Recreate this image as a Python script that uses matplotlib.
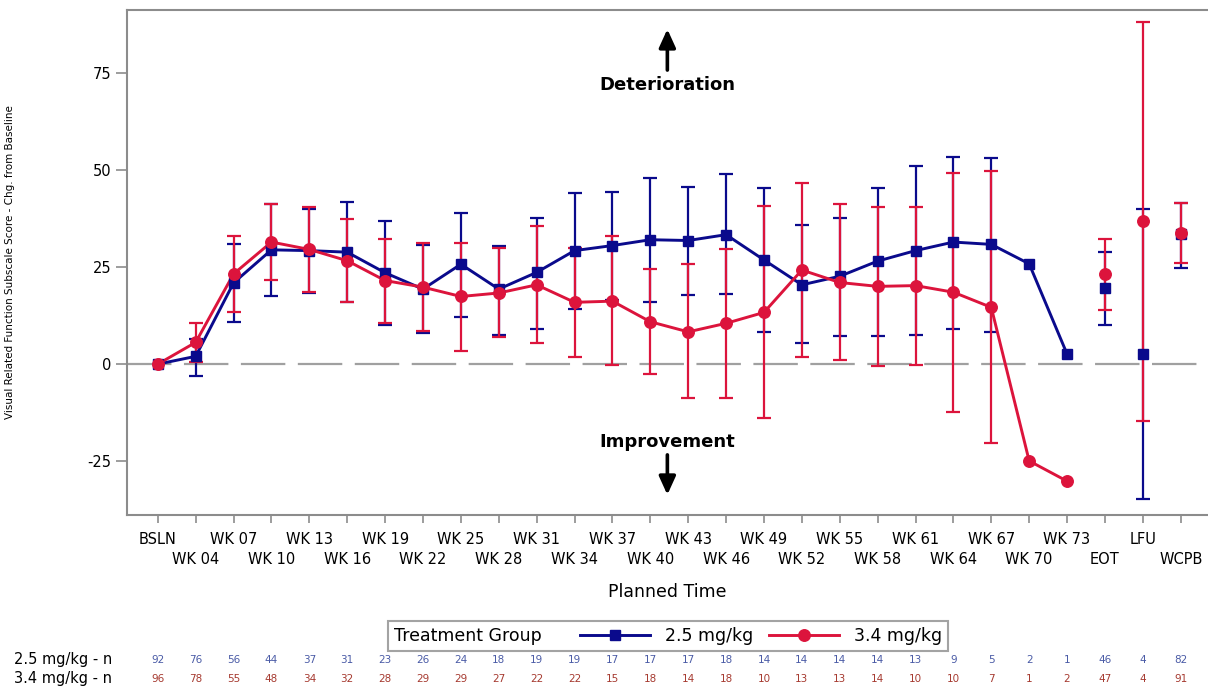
import numpy as np
import matplotlib
matplotlib.use('Agg')
import matplotlib.pyplot as plt
from matplotlib.lines import Line2D
from matplotlib.offsetbox import HPacker
from matplotlib.transforms import blended_transform_factory

plt.rcParams['font.family'] = 'DejaVu Sans'
plt.rcParams['lines.scale_dashes'] = False
plt.rcParams['axes.unicode_minus'] = False

# visit labels
visits = ['BSLN'] + [f'WK {w:02d}' for w in range(4, 74, 3)] + ['EOT', 'LFU', 'WCPB']
n_connected = 25  # BSLN .. WK 73 are joined by a line

# 2.5 mg/kg: mean change from baseline with error bar limits
mean_25 = [0, 2.0, 20.9, 29.4, 29.2, 28.8, 23.5, 19.3, 25.7, 19.3, 23.6, 29.2, 30.5, 32.0,
           31.8, 33.3, 26.8, 20.4, 22.6, 26.5, 29.2, 31.4, 30.8, 25.8, 2.6, 19.7, 2.6, 33.4]
upper_25 = [np.nan, 6.4, 30.8, 41.1, 40.0, 41.8, 36.7, 30.7, 39.0, 30.5, 37.7, 44.1, 44.4, 47.8,
            45.5, 48.8, 45.4, 35.7, 37.5, 45.4, 50.9, 53.4, 53.1, np.nan, np.nan, 28.9, 39.9, 41.5]
lower_25 = [np.nan, -3.0, 10.8, 17.4, 18.4, 15.9, 10.1, 7.9, 12.2, 7.5, 9.0, 14.2, 16.6, 16.0,
            17.8, 18.0, 8.2, 5.4, 7.2, 7.2, 7.5, 9.0, 8.2, np.nan, np.nan, 10.1, -34.8, 24.8]

# 3.4 mg/kg
mean_34 = [0, 5.6, 23.2, 31.4, 29.5, 26.6, 21.5, 19.8, 17.4, 18.3, 20.4, 15.9, 16.2, 10.9,
           8.3, 10.5, 13.3, 24.2, 21.0, 20.0, 20.2, 18.5, 14.6, -24.9, -30.1, 23.2, 36.7, 33.7]
upper_34 = [np.nan, 10.6, 32.9, 41.1, 40.4, 37.4, 32.2, 31.2, 31.2, 29.8, 35.5, 29.8, 32.9, 24.5,
            25.7, 29.6, 40.8, 46.6, 41.3, 40.4, 40.5, 49.2, 49.6, np.nan, np.nan, 32.2, 87.9, 41.5]
lower_34 = [np.nan, 0.6, 13.3, 21.7, 18.5, 16.1, 10.6, 8.6, 3.4, 6.9, 5.4, 1.9, -0.3, -2.6,
            -8.8, -8.6, -13.9, 1.9, 1.0, -0.4, -0.3, -12.3, -20.4, np.nan, np.nan, 14.0, -14.6, 25.9]

# subjects per visit
n_25 = [92, 76, 56, 44, 37, 31, 23, 26, 24, 18, 19, 19, 17, 17, 17, 18, 14, 14, 14, 14,
        13, 9, 5, 2, 1, 46, 4, 82]
n_34 = [96, 78, 55, 48, 34, 32, 28, 29, 29, 27, 22, 22, 15, 18, 14, 18, 10, 13, 13, 14,
        10, 10, 7, 1, 2, 47, 4, 91]

groups = [('2.5 mg/kg', mean_25, upper_25, lower_25, n_25, '#0a0a8c', 's', 7.5, '#4a5ba6'),
          ('3.4 mg/kg', mean_34, upper_34, lower_34, n_34, '#dc143c', 'o', 8.3, '#a63a30')]

fig = plt.figure(figsize=(12.08, 6.88), dpi=100)
ax = fig.add_axes([0.1049, 0.2515, 0.8951, 0.734])
x = np.arange(len(visits))
grey = '#8c8c8c'

ax.axhline(0, color='#a0a0a0', lw=1.6, dashes=(32, 9), zorder=1)

for name, m, up, lo, n, col, mk, ms, tcol in groups:
    m = np.array(m)
    yerr = np.vstack([m - np.array(lo), np.array(up) - m])
    ax.errorbar(x, m, yerr=yerr, fmt='none', ecolor=col, elinewidth=1.6,
                capsize=5, capthick=1.6, zorder=2)
for name, m, up, lo, n, col, mk, ms, tcol in groups:
    ax.plot(x[:n_connected], m[:n_connected], color=col, lw=2.1, zorder=3)
    ax.plot(x, m, ls='none', marker=mk, ms=ms, color=col, zorder=4)

ax.set_xlim(-0.82, 27.72)
ax.set_ylim(-38.8, 91.1)
ax.set_yticks([-25, 0, 25, 50, 75])
ax.tick_params(axis='y', length=8, width=1.2, color=grey, labelsize=10.5, pad=3)

# staggered visit labels
ax.set_xticks(x[::2])
ax.set_xticklabels(visits[::2])
ax.set_xticks(x[1::2], minor=True)
ax.set_xticklabels(visits[1::2], minor=True)
ax.tick_params(axis='x', which='major', length=6, width=1.2, color=grey, labelsize=10.5, pad=6)
ax.tick_params(axis='x', which='minor', length=6, width=1.2, color=grey, labelsize=10.5, pad=20.5)

for side in ['left', 'bottom', 'top']:
    ax.spines[side].set_color(grey)
    ax.spines[side].set_linewidth(1.5)
ax.spines['right'].set_visible(False)

ax.set_xlabel('Planned Time', fontsize=12.5, labelpad=12)
ax.set_ylabel('Visual Related Function Subscale Score - Chg. from Baseline', fontsize=7.5)
ax.yaxis.set_label_coords(-0.103, 0.5)

arrow_style = dict(arrowstyle='-|>,head_length=1.1,head_width=0.5', lw=2.6, color='black',
                   shrinkA=0, shrinkB=0)
ax.text(0.5, 0.851, 'Deterioration', transform=ax.transAxes, ha='center', va='center',
        fontsize=13, fontweight='bold')
ax.annotate('', xy=(0.5, 0.962), xytext=(0.5, 0.881), xycoords='axes fraction',
            arrowprops=arrow_style)
ax.text(0.5, 0.145, 'Improvement', transform=ax.transAxes, ha='center', va='center',
        fontsize=13, fontweight='bold')
ax.annotate('', xy=(0.5, 0.04), xytext=(0.5, 0.119), xycoords='axes fraction',
            arrowprops=arrow_style)

# legend with the title beside the entries
handles = [Line2D([], [], color=g[5], marker=g[6], ms=g[7], lw=2.1, label=g[0]) for g in groups]
leg = fig.legend(handles=handles, ncol=2, title='Treatment Group', title_fontsize=12.5,
                 fontsize=12.5, loc='center', bbox_to_anchor=(0.553, 0.0756),
                 frameon=True, fancybox=False, edgecolor=grey, handlelength=4.0,
                 handletextpad=0.9, columnspacing=0.9, borderpad=0.35, borderaxespad=0)
leg.get_frame().set_linewidth(1.5)
title_box, entry_box = leg._legend_box.get_children()
leg._legend_box = HPacker(pad=leg.borderpad * leg._fontsize, sep=28, align='center',
                          children=[title_box, entry_box])
leg._legend_box.set_figure(fig)
leg._legend_box.axes = leg.axes
leg._set_loc(leg._loc)

# subject counts under the chart
trans = blended_transform_factory(ax.transData, fig.transFigure)
for (name, m, up, lo, n, col, mk, ms, tcol), yrow in zip(groups, [0.0407, 0.0131]):
    fig.text(0.0116, yrow, f'{name} - n', fontsize=10.5, va='center', ha='left')
    for xi, ni in zip(x, n):
        ax.text(xi, yrow, str(ni), transform=trans, fontsize=7.5, color=tcol,
                ha='center', va='center', clip_on=False)

fig.savefig('out.png', dpi=100)
